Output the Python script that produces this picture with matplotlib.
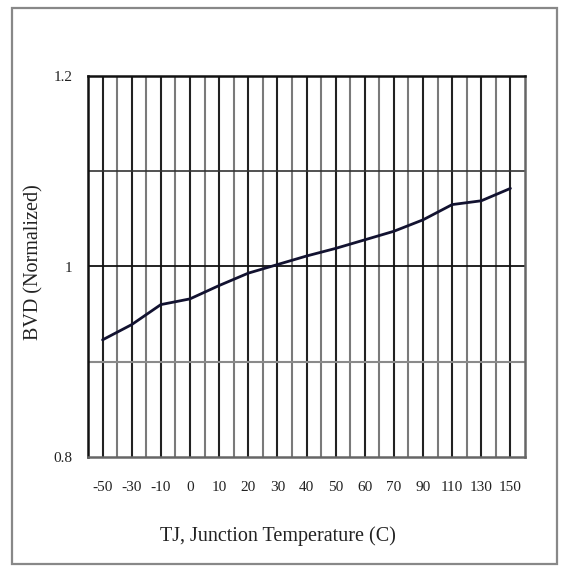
import matplotlib
matplotlib.use("Agg")
import matplotlib.pyplot as plt
import numpy as np
from matplotlib.patches import Rectangle

temps = ["-50", "-30", "-10", "0", "10", "20", "30", "40", "50", "60", "70", "90", "110", "130", "150"]
bvd = [0.923, 0.939, 0.960, 0.966, 0.980, 0.993, 1.002, 1.011, 1.019, 1.028, 1.037, 1.049, 1.065, 1.069, 1.082]
yticks = [0.8, 1.0, 1.2]
ytick_labels = ["0.8", "1", "1.2"]

plt.rcParams['font.family'] = ['Liberation Serif', 'DejaVu Serif']

W = 566
fig = plt.figure(figsize=(W / 100, W / 100), dpi=100)
L, R, T, B = 88, 525, 76, 457
ax = fig.add_axes([L / W, 1 - B / W, (R - L) / W, (B - T) / W])

x = np.arange(len(temps))
ax.set_xlim(-0.5, len(temps) - 0.5)
ax.set_ylim(0.8, 1.2)

# vertical grid: category centers dark, boundaries gray
for i in x:
    ax.axvline(i, color='#222222', lw=1.5, zorder=1)
for b in np.arange(0.5, len(temps) - 0.5, 1.0):
    ax.axvline(b, color='#7a7a7a', lw=1.5, zorder=1)
# horizontal grid
ax.axhline(0.9, color='#8a8a8a', lw=1.5, zorder=1)
ax.axhline(1.0, color='#111111', lw=1.3, zorder=1)
ax.axhline(1.1, color='#333333', lw=1.2, zorder=1)

ax.plot(x, bvd, color='#121230', lw=2.0, zorder=3, solid_capstyle='round')

ax.set_xticks(x)
ax.set_xticklabels(temps, fontsize=11)
ax.set_yticks(yticks)
ax.set_yticklabels(ytick_labels, fontsize=11)
ax.tick_params(axis='both', length=0, colors='#222222')
ax.tick_params(axis='x', pad=17)
ax.tick_params(axis='y', pad=11)

for side in ['top', 'left']:
    ax.spines[side].set_color('#111111')
    ax.spines[side].set_linewidth(1.8)
for side in ['bottom', 'right']:
    ax.spines[side].set_color('#666666')
    ax.spines[side].set_linewidth(1.8)

fig.text(278 / W, 1 - 536 / W, "TJ, Junction Temperature (C)", ha='center', va='center',
         fontsize=14.5, color='#222222')
fig.text(34 / W, 1 - 262 / W, "BVD (Normalized)", ha='center', va='center', rotation=90,
         fontsize=14.5, color='#222222')

fig.patches.append(Rectangle((12 / W, 1 - 564 / W), (557 - 12) / W, (564 - 8) / W,
                             transform=fig.transFigure, fill=False, edgecolor='#888888', lw=1.6))

fig.savefig("out.png", dpi=100)
